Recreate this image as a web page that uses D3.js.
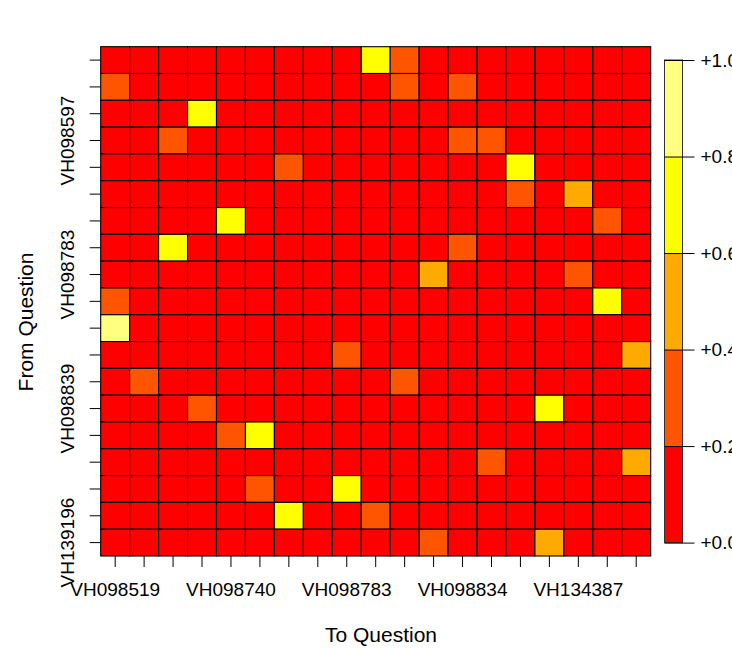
<!DOCTYPE html>
<html>
<head>
<meta charset="utf-8">
<script src="https://cdn.jsdelivr.net/npm/d3@7"></script>
<style>
  body { margin: 0; background: #fff; }
  svg { display: block; font-family: "Liberation Sans", Arial, sans-serif; }
</style>
</head>
<body>
<svg id="chart" width="732" height="649"></svg>
<script>
// question ids (only some of them show on the axes)
const questions = [
  "VH098519", "VH098522", "VH098556", "VH098597", "VH098740", "VH098741",
  "VH098745", "VH098779", "VH098783", "VH098786", "VH098811", "VH098812",
  "VH098834", "VH098839", "VH134380", "VH134384", "VH134387", "VH139193", "VH139196"
];
const xLabelled = ["VH098519", "VH098740", "VH098783", "VH098834", "VH134387"];
const yLabelled = ["VH098597", "VH098783", "VH098839", "VH139196"];

// transition proportions, one row per "from" question (top row first)
const transitions = [
  [0, 0, 0, 0, 0, 0, 0, 0, 0, .70, .26, 0, 0, 0, 0, 0, 0, 0, 0],
  [.30, 0, 0, 0, 0, 0, 0, 0, 0, 0, .33, 0, .28, 0, 0, 0, 0, 0, 0],
  [0, 0, 0, .72, 0, 0, 0, 0, 0, 0, 0, 0, 0, 0, 0, 0, 0, 0, 0],
  [0, 0, .31, 0, 0, 0, 0, 0, 0, 0, 0, 0, .29, .30, 0, 0, 0, 0, 0],
  [0, 0, 0, 0, 0, 0, .27, 0, 0, 0, 0, 0, 0, 0, .68, 0, 0, 0, 0],
  [0, 0, 0, 0, 0, 0, 0, 0, 0, 0, 0, 0, 0, 0, .28, 0, .45, 0, 0],
  [0, 0, 0, 0, .66, 0, 0, 0, 0, 0, 0, 0, 0, 0, 0, 0, 0, .27, 0],
  [0, 0, .70, 0, 0, 0, 0, 0, 0, 0, 0, 0, .25, 0, 0, 0, 0, 0, 0],
  [0, 0, 0, 0, 0, 0, 0, 0, 0, 0, 0, .48, 0, 0, 0, 0, .26, 0, 0],
  [.25, 0, 0, 0, 0, 0, 0, 0, 0, 0, 0, 0, 0, 0, 0, 0, 0, .71, 0],
  [.88, 0, 0, 0, 0, 0, 0, 0, 0, 0, 0, 0, 0, 0, 0, 0, 0, 0, 0],
  [0, 0, 0, 0, 0, 0, 0, 0, .28, 0, 0, 0, 0, 0, 0, 0, 0, 0, .46],
  [0, .30, 0, 0, 0, 0, 0, 0, 0, 0, .29, 0, 0, 0, 0, 0, 0, 0, 0],
  [0, 0, 0, .27, 0, 0, 0, 0, 0, 0, 0, 0, 0, 0, 0, .73, 0, 0, 0],
  [0, 0, 0, 0, .29, .69, 0, 0, 0, 0, 0, 0, 0, 0, 0, 0, 0, 0, 0],
  [0, 0, 0, 0, 0, 0, 0, 0, 0, 0, 0, 0, 0, .28, 0, 0, 0, 0, .47],
  [0, 0, 0, 0, 0, .30, 0, 0, .67, 0, 0, 0, 0, 0, 0, 0, 0, 0, 0],
  [0, 0, 0, 0, 0, 0, .70, 0, 0, .27, 0, 0, 0, 0, 0, 0, 0, 0, 0],
  [0, 0, 0, 0, 0, 0, 0, 0, 0, 0, 0, .32, 0, 0, 0, .52, 0, 0, 0]
];

const breaks = [0, 0.2, 0.4, 0.6, 0.8, 1.0];
const heatColors = ["#FF0000", "#FF5500", "#FFAA00", "#FFFF00", "#FFFF80"];

const svg = d3.select("#chart");
const plotL = 100.7, plotR = 650.7, plotT = 46.7, plotB = 556;

const x = d3.scaleBand().domain(questions).range([plotL, plotR]);
const y = d3.scaleBand().domain(questions).range([plotT, plotB]);
const color = d3.scaleThreshold().domain(breaks.slice(1, -1)).range(heatColors);

const cells = [];
transitions.forEach((row, i) => {
  row.forEach((v, j) => cells.push({from: questions[i], to: questions[j], value: v}));
});

svg.append("g")
  .selectAll("rect")
  .data(cells)
  .join("rect")
  .attr("x", d => x(d.to))
  .attr("y", d => y(d.from))
  .attr("width", x.bandwidth())
  .attr("height", y.bandwidth())
  .attr("fill", d => color(d.value))
  .attr("stroke", "#000")
  .attr("stroke-width", 1.1);

// axes
const xAxis = svg.append("g")
  .attr("transform", "translate(0," + plotB + ")")
  .call(d3.axisBottom(x)
    .tickSizeOuter(0)
    .tickSize(11)
    .tickPadding(16)
    .tickFormat(d => xLabelled.includes(d) ? d : ""));

const yAxis = svg.append("g")
  .attr("transform", "translate(" + plotL + ",0)")
  .call(d3.axisLeft(y)
    .tickSizeOuter(0)
    .tickSize(11)
    .tickFormat(d => yLabelled.includes(d) ? d : ""));

[xAxis, yAxis].forEach(g => {
  g.select(".domain").remove();
  g.selectAll("line").attr("stroke", "#000");
  g.selectAll("text").attr("fill", "#000").style("font-size", "19px");
});

yAxis.selectAll(".tick text")
  .attr("x", 0)
  .attr("dy", 0)
  .attr("transform", "translate(-27,0) rotate(-90)")
  .attr("text-anchor", "middle");

svg.append("text")
  .attr("x", 381)
  .attr("y", 642)
  .attr("text-anchor", "middle")
  .style("font-size", "21px")
  .text("To Question");

svg.append("text")
  .attr("transform", "translate(33,322) rotate(-90)")
  .attr("text-anchor", "middle")
  .style("font-size", "21px")
  .text("From Question");

// colour key
const keyX = 664.5, keyW = 18;
const ky = d3.scaleLinear().domain([0, 1]).range([542.6, 60]);

svg.append("g")
  .selectAll("rect")
  .data(heatColors)
  .join("rect")
  .attr("x", keyX)
  .attr("y", (c, i) => ky(breaks[i + 1]))
  .attr("width", keyW)
  .attr("height", (c, i) => ky(breaks[i]) - ky(breaks[i + 1]))
  .attr("fill", c => c);

svg.append("rect")
  .attr("x", keyX)
  .attr("y", ky(1))
  .attr("width", keyW)
  .attr("height", ky(0) - ky(1))
  .attr("fill", "none")
  .attr("stroke", "#333")
  .attr("stroke-width", 1);

const keyAxis = svg.append("g")
  .attr("transform", "translate(" + keyX + ",0)")
  .call(d3.axisRight(ky)
    .tickValues(breaks)
    .tickSize(30)
    .tickPadding(6)
    .tickFormat(d => "+" + d.toFixed(1)));
keyAxis.select(".domain").remove();
keyAxis.selectAll("line").attr("stroke", "#000");
keyAxis.selectAll("text").attr("fill", "#000").style("font-size", "19px");
</script>
</body>
</html>
